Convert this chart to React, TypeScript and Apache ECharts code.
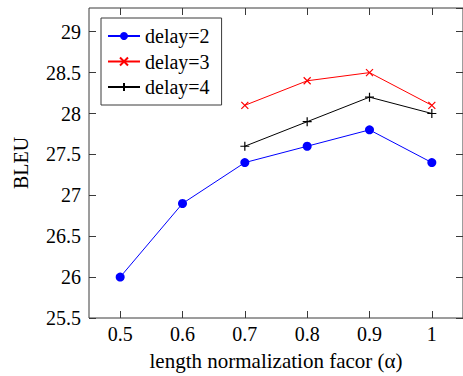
import React, { useEffect, useRef } from "react";
import * as echarts from "echarts";

const categories = ["0.5", "0.6", "0.7", "0.8", "0.9", "1"];
const delay2 = [26.0, 26.9, 27.4, 27.6, 27.8, 27.4];
const delay3 = [null, null, 28.1, 28.4, 28.5, 28.1];
const delay4 = [null, null, 27.6, 27.9, 28.2, 28.0];
const seriesNames = ["delay=2", "delay=3", "delay=4"];
const yMin = 25.5;
const yMax = 29.29;
const yStep = 0.5;

const FONT = "serif";
const FRAME = "#3a3a3a";

export default function App() {
  const ref = useRef<HTMLDivElement>(null);
  useEffect(() => {
    if (!ref.current) return;
    const chart = echarts.init(ref.current, null, { renderer: "svg" });
    const tick = { show: true, inside: true, length: 7, alignWithLabel: true, lineStyle: { color: FRAME, width: 1 } };
    const ytick = { show: true, inside: true, length: 7, lineStyle: { color: FRAME, width: 1 } };
    chart.setOption({
      animation: false,
      textStyle: { fontFamily: FONT },
      grid: {
        left: 89,
        top: 8,
        width: 377,
        height: 313,
        show: true,
        borderColor: FRAME,
        borderWidth: 1,
        containLabel: false,
      },
      legend: {
        orient: "vertical",
        left: 101,
        top: 18,
        data: seriesNames,
        backgroundColor: "#fff",
        borderColor: FRAME,
        borderWidth: 1,
        padding: [7, 12, 7, 6],
        itemGap: 3.5,
        itemWidth: 32,
        itemHeight: 10,
        textStyle: { fontFamily: FONT, fontSize: 20, color: "#000", lineHeight: 22 },
      },
      xAxis: [
        {
          type: "category",
          data: categories,
          boundaryGap: true,
          position: "bottom",
          name: "length normalization facor (α)",
          nameLocation: "middle",
          nameGap: 32,
          nameTextStyle: { fontFamily: FONT, fontSize: 21, color: "#000" },
          axisLine: { show: false },
          axisTick: tick,
          axisLabel: { fontFamily: FONT, fontSize: 20, color: "#000", margin: 6 },
          splitLine: { show: false },
        },
        {
          type: "category",
          data: categories,
          boundaryGap: true,
          position: "top",
          axisLine: { show: false },
          axisTick: tick,
          axisLabel: { show: false },
          splitLine: { show: false },
        },
      ],
      yAxis: [
        {
          type: "value",
          min: yMin,
          max: yMax,
          interval: yStep,
          position: "left",
          name: "BLEU",
          nameLocation: "middle",
          nameGap: 58,
          nameTextStyle: { fontFamily: FONT, fontSize: 20, color: "#000" },
          axisLine: { show: false },
          axisTick: ytick,
          axisLabel: {
            fontFamily: FONT,
            fontSize: 20,
            color: "#000",
            margin: 8,
            showMaxLabel: false,
            formatter: (v: number) => (Math.abs(v / yStep - Math.round(v / yStep)) < 1e-6 ? String(v) : ""),
          },
          splitLine: { show: false },
        },
        {
          type: "value",
          min: yMin,
          max: yMax,
          interval: yStep,
          position: "right",
          axisLine: { show: false },
          axisTick: ytick,
          axisLabel: { show: false },
          splitLine: { show: false },
        },
      ],
      series: [
        {
          name: seriesNames[0],
          type: "line",
          data: delay2,
          symbol: "circle",
          symbolSize: 9,
          lineStyle: { color: "#0000ff", width: 1 },
          itemStyle: { color: "#0000ff" },
        },
        {
          name: seriesNames[1],
          type: "line",
          data: delay3,
          symbol: "path://M0,0L10,10M10,0L0,10",
          symbolSize: 7,
          lineStyle: { color: "#ff0000", width: 1 },
          itemStyle: { color: "#ff0000", borderColor: "#ff0000", borderWidth: 1.2 },
        },
        {
          name: seriesNames[2],
          type: "line",
          data: delay4,
          symbol: "path://M5,0L5,10M0,5L10,5",
          symbolSize: 9,
          lineStyle: { color: "#000000", width: 1 },
          itemStyle: { color: "#000000", borderColor: "#000000", borderWidth: 1.2 },
        },
      ],
    });
    return () => chart.dispose();
  }, []);
  return <div ref={ref} style={{ width: 463, height: 376, position: "absolute", left: 0, top: 0 }} />;
}
